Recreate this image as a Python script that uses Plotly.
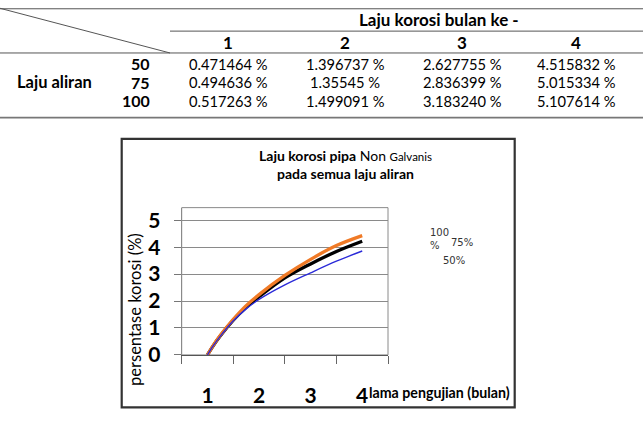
import plotly.graph_objects as go

W, H = 643, 421

# ---------------- data ----------------
table_months = ["1", "2", "3", "4"]
table_rates = ["50", "75", "100"]
table_50 = ["0.471464 %", "1.396737 %", "2.627755 %", "4.515832 %"]
table_75 = ["0.494636 %", "1.35545 %", "2.836399 %", "5.015334 %"]
table_100 = ["0.517263 %", "1.499091 %", "3.183240 %", "5.107614 %"]

curve_x = [1, 1.1, 1.25, 1.5, 1.75, 2, 2.5, 3, 3.5, 4]
curve_100 = [0, 0.32, 0.73, 1.32, 1.83, 2.24, 2.95, 3.55, 4.06, 4.43]
curve_75 = [0, 0.31, 0.71, 1.29, 1.77, 2.16, 2.86, 3.38, 3.84, 4.22]
curve_50 = [0, 0.31, 0.70, 1.27, 1.71, 2.06, 2.6, 3.05, 3.48, 3.86]

x_ticks = [1, 2, 3, 4]
x_tick_labels = ["1", "2", "3", "4"]
y_ticks = [0, 1, 2, 3, 4, 5]


def px(x):
    return x / W


def py(y):
    return 1 - y / H


FONT = "Lato"

fig = go.Figure()

fig.add_trace(go.Scatter(x=curve_x, y=curve_50, mode="lines", name="50%",
                         line=dict(color="#2a2ad8", width=1.4, shape="spline", smoothing=1.0),
                         xaxis="x2", yaxis="y"))
fig.add_trace(go.Scatter(x=curve_x, y=curve_75, mode="lines", name="75%",
                         line=dict(color="#000000", width=3.3, shape="spline", smoothing=1.0)))
fig.add_trace(go.Scatter(x=curve_x, y=curve_100, mode="lines", name="100 %",
                         line=dict(color="#f07a26", width=3.3, shape="spline", smoothing=1.0)))

xdom = [px(181.7), px(388)]
ydom = [py(364.3), py(212.7)]

fig.update_layout(
    width=W, height=H,
    margin=dict(l=0, r=0, t=0, b=0),
    paper_bgcolor="white", plot_bgcolor="white",
    showlegend=False,
    font=dict(family=FONT, color="#000"),
    xaxis=dict(domain=xdom, anchor="y", range=[0.5, 4.5], tickvals=x_ticks, ticktext=x_tick_labels,
               ticks="", showgrid=False, zeroline=False, showline=True, linecolor="#555", linewidth=1.2,
               tickfont=dict(family=FONT, size=21, color="#000", weight="bold"), ticklabelstandoff=22),
    xaxis2=dict(domain=xdom, anchor="y", overlaying="x", range=[0.5, 4.5],
                tickvals=[0.5, 1.5, 2.5, 3.5, 4.5], ticks="outside", ticklen=8, tickcolor="#666",
                tickwidth=1, showticklabels=False, showgrid=False, zeroline=False, showline=False),
    yaxis=dict(domain=ydom, anchor="x", range=[0, 5.47], tickvals=y_ticks,
               ticks="outside", ticklen=7, tickcolor="#777", showgrid=True, gridcolor="#8a8a8a",
               gridwidth=1, zeroline=False, showline=True, linecolor="#8a8a8a", linewidth=1,
               tickfont=dict(family=FONT, size=21, color="#000", weight="bold"), ticklabelstandoff=9),
)

shapes = []
# plot area frame (top & right)
shapes.append(dict(type="rect", xref="x domain", yref="y domain", x0=0, x1=1, y0=0, y1=1,
                   line=dict(color="#8a8a8a", width=1), layer="below"))
# chart outer box
shapes.append(dict(type="rect", xref="paper", yref="paper", x0=px(121.7), x1=px(514.7),
                   y0=py(418.3), y1=py(142), line=dict(color="#333", width=2.2)))
# table lines
tline = dict(color="#555", width=1)
shapes.append(dict(type="line", xref="paper", yref="paper", x0=0, x1=1, y0=py(8), y1=py(8), line=tline))
shapes.append(dict(type="line", xref="paper", yref="paper", x0=0, x1=px(170), y0=py(7.5), y1=py(53.5), line=tline))
shapes.append(dict(type="line", xref="paper", yref="paper", x0=px(170), x1=1, y0=py(31), y1=py(31), line=tline))
shapes.append(dict(type="line", xref="paper", yref="paper", x0=0, x1=1, y0=py(53.5), y1=py(53.5), line=tline))
shapes.append(dict(type="line", xref="paper", yref="paper", x0=0, x1=1, y0=py(120), y1=py(120),
                   line=dict(color="#777", width=1.6)))
fig.update_layout(shapes=shapes)

ann = []


def txt(x, y, s, size, bold=False, xanchor="center", color="#000", family=FONT, angle=0):
    ann.append(dict(xref="paper", yref="paper", x=px(x), y=py(y), text=s, showarrow=False,
                    xanchor=xanchor, yanchor="middle", textangle=angle,
                    font=dict(family=family, size=size, color=color, weight="bold" if bold else "normal")))


# table text
txt(439, 19, "Laju korosi bulan ke -", 17, bold=True)
col_x = [228, 345, 462, 576]
for cx, m in zip(col_x, table_months):
    txt(cx, 42.5, m, 17, bold=True)
row_y = [64.5, 83.5, 102.5]
for ry, r in zip(row_y, table_rates):
    txt(152, ry, r, 16, bold=True, xanchor="right")
txt(54, 83.5, "Laju aliran", 16.5, bold=True)
for ry, vals in zip(row_y, [table_50, table_75, table_100]):
    for cx, v in zip(col_x, vals):
        txt(cx, ry, v, 14.7)

# chart title
txt(345, 159.5, "<b>Laju korosi pipa</b> Non <span style='font-size:11.5px'>Galvanis</span>", 14)
txt(345, 177.5, "pada semua laju aliran", 14, bold=True)

# y axis title
txt(135, 318, "persentase korosi (%)", 16.5, angle=-90)

# x axis title
txt(439, 403.5, "lama pengujian (bulan)", 14.2, bold=True)

# legend-like labels
lg = "DejaVu Sans"
txt(428, 238, "100", 10, xanchor="left", color="#333", family=lg)
txt(428, 252, "%", 10, xanchor="left", color="#333", family=lg)
txt(449, 249, "75%", 10, xanchor="left", color="#333", family=lg)
txt(441, 267.5, "50%", 10, xanchor="left", color="#333", family=lg)

fig.update_layout(annotations=ann)

fig.write_html("out.html")
